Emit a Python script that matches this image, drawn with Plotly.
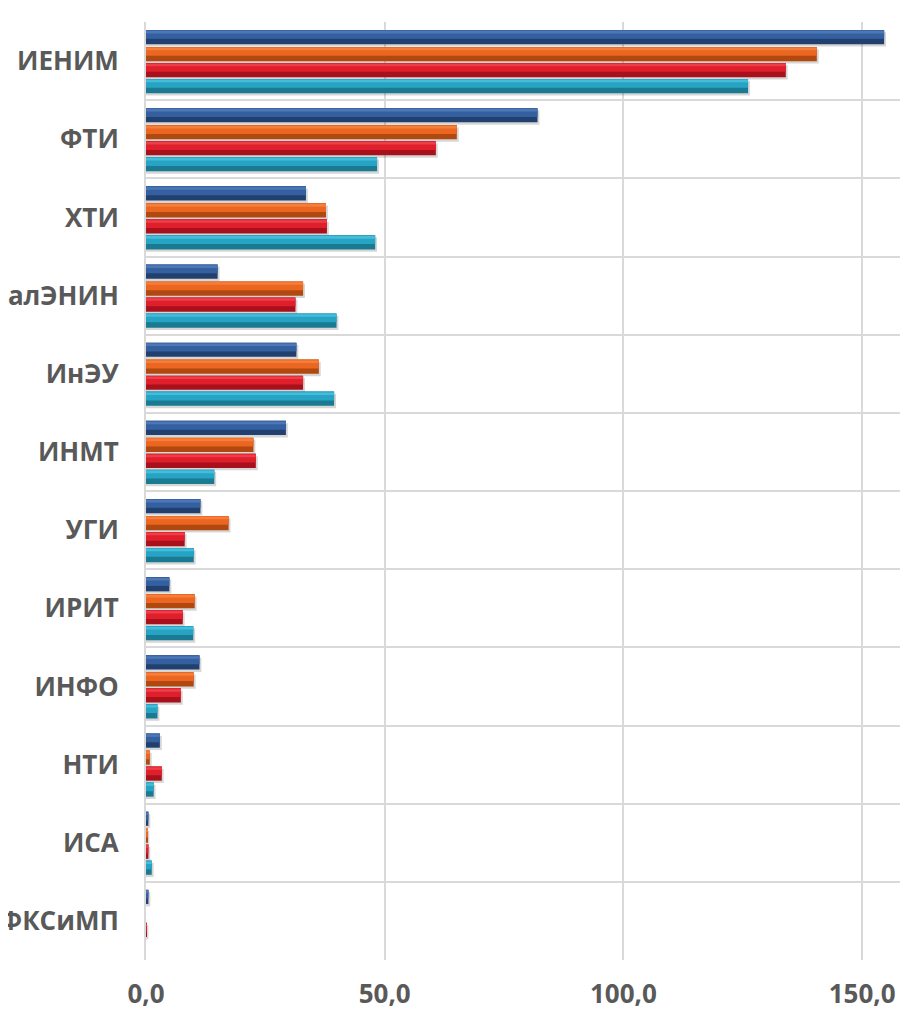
import plotly.graph_objects as go

categories = ["ИЕНИМ", "ФТИ", "ХТИ", "УралЭНИН", "ИнЭУ", "ИНМТ", "УГИ", "ИРИТ", "ИНФО", "НТИ", "ИСА", "ФКСиМП"]
series_names = ["Ряд 1", "Ряд 2", "Ряд 3", "Ряд 4"]
s1 = [154.6, 82.0, 33.5, 15.0, 31.5, 29.3, 11.4, 4.9, 11.2, 2.9, 0.5, 0.5]
s2 = [140.5, 65.1, 37.7, 32.9, 36.2, 22.5, 17.3, 10.2, 10.0, 0.8, 0.3, 0.0]
s3 = [134.0, 60.7, 37.9, 31.3, 32.9, 23.0, 8.1, 7.7, 7.3, 3.3, 0.5, 0.1]
s4 = [126.1, 48.4, 48.0, 39.9, 39.4, 14.3, 10.0, 9.9, 2.4, 1.6, 1.2, 0.0]
x_ticks = [0, 50, 100, 150]
x_tick_labels = ["0,0", "50,0", "100,0", "150,0"]

series = [s1, s2, s3, s4]
dark = ["#22406F", "#B0480F", "#A8111B", "#197A91"]
main = ["#3560A0", "#EB6620", "#E01F2C", "#27A3C4"]
light = ["#4D78B8", "#F47E3A", "#EE3F49", "#45BCDA"]

W = 0.182
offsets = [-0.398, -0.181, 0.024, 0.228]

fig = go.Figure()
for k, vals in enumerate(series):
    off = offsets[k]
    # shadow
    fig.add_trace(go.Bar(y=categories, x=[v + 0.4 if v > 0 else 0 for v in vals], orientation="h",
                         offset=off + 0.03, width=W,
                         marker=dict(color="rgba(0,0,0,0.16)", line=dict(width=0)),
                         hoverinfo="skip", showlegend=False))
    fig.add_trace(go.Bar(y=categories, x=vals, orientation="h", name=series_names[k],
                         offset=off, width=W,
                         marker=dict(color=dark[k], line=dict(width=0)), showlegend=False))
    fig.add_trace(go.Bar(y=categories, x=vals, orientation="h",
                         offset=off, width=W * 0.62,
                         marker=dict(color=main[k], line=dict(width=0)),
                         hoverinfo="skip", showlegend=False))
    fig.add_trace(go.Bar(y=categories, x=vals, orientation="h",
                         offset=off + W * 0.06, width=W * 0.18,
                         marker=dict(color=light[k], line=dict(width=0)),
                         hoverinfo="skip", showlegend=False))

fig.update_layout(
    width=900, height=1003,
    margin=dict(l=138, r=0, t=14, b=51),
    barmode="overlay",
    plot_bgcolor="white", paper_bgcolor="white",
    showlegend=False,
    font=dict(family="Open Sans", color="#595959"),
)
fig.update_xaxes(
    range=[0, 159.6],
    tickvals=x_ticks, ticktext=x_tick_labels,
    showgrid=True, gridcolor="#D9D9D9", gridwidth=2,
    zeroline=False, showline=False,
    tickfont=dict(size=26, family="Open Sans", color="#595959", weight="bold"),
    ticklabelstandoff=16,
    automargin=False,
)
fig.update_yaxes(
    type="category",
    categoryorder="array", categoryarray=categories,
    autorange="reversed",
    tickson="boundaries",
    showgrid=True, gridcolor="#D9D9D9", gridwidth=2,
    showline=True, linecolor="#D9D9D9", linewidth=2,
    zeroline=False, ticks="",
    tickfont=dict(size=26, family="Open Sans", color="#595959", weight="bold"),
    ticklabelstandoff=20,
    automargin=False,
)

fig.write_html("out.html")
